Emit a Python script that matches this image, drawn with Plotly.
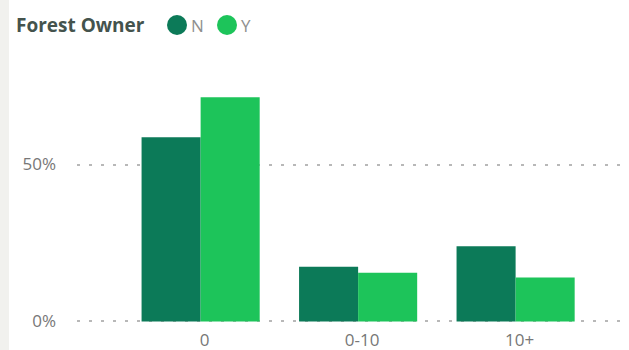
import plotly.graph_objects as go

# Share of respondents by years of forest ownership
categories = ["0", "0-10", "10+"]
owner_n = [58.7, 17.4, 24.0]
owner_y = [71.4, 15.5, 14.0]
series_names = ["N", "Y"]
legend_title = "Forest Owner"
y_tick_vals = [0, 50]
y_tick_text = ["0%", "50%"]

dark_green = "#0c7a58"
light_green = "#1dc45a"

W, H = 629, 350
ML, MR, MT, MB = 77, 0, 86, 26
PW, PH = W - ML - MR, H - MT - MB


def px_x(x):
    """Pixel column -> paper x."""
    return (x - ML) / PW


def px_y(y):
    """Pixel row (from top) -> paper y."""
    return (H - MB - y) / PH


fig = go.Figure()
for name, vals, col in zip(series_names, [owner_n, owner_y], [dark_green, light_green]):
    fig.add_trace(go.Bar(x=categories, y=vals, name=name,
                         marker=dict(color=col, line=dict(width=0)),
                         showlegend=False))

# legend drawn as title + circular keys
annotations = [dict(text="<b>%s</b>" % legend_title, xref="paper", yref="paper",
                    x=px_x(14), y=px_y(25), xanchor="left", yanchor="middle",
                    showarrow=False, font=dict(size=19, color="#44534d"))]
shapes = [dict(type="rect", xref="paper", yref="paper",
               x0=px_x(0), x1=px_x(9), y0=-0.2, y1=1.5,
               fillcolor="#f1f1ee", line=dict(width=0), layer="below")]
key_x = [177, 227]
for name, col, cx in zip(series_names, [dark_green, light_green], key_x):
    shapes.append(dict(type="circle", xref="paper", yref="paper",
                       x0=px_x(cx - 10), x1=px_x(cx + 10),
                       y0=px_y(35), y1=px_y(15),
                       fillcolor=col, line=dict(width=0)))
    annotations.append(dict(text=name, xref="paper", yref="paper",
                            x=px_x(cx + 12), y=px_y(25), xanchor="left", yanchor="middle",
                            showarrow=False, font=dict(size=17, color="#8f8f8f")))

fig.update_layout(
    width=W, height=H,
    margin=dict(l=ML, r=MR, t=MT, b=MB),
    paper_bgcolor="white", plot_bgcolor="white",
    font=dict(family="Open Sans, Noto Sans, sans-serif", size=18, color="#777777"),
    barmode="group", bargap=0.25, bargroupgap=0,
    showlegend=False,
    xaxis=dict(
        type="category", range=[-0.785, 2.72],
        showgrid=False, zeroline=False, showline=False, ticks="",
        tickfont=dict(size=17, color="#777777"),
        ticklabelshift=4, ticklabelstandoff=4,
    ),
    yaxis=dict(
        range=[-0.8, 75.0], tickvals=y_tick_vals, ticktext=y_tick_text,
        showgrid=True, gridcolor="#b8b8b8", griddash="3px,9px", gridwidth=2,
        zeroline=False, showline=False, ticks="",
        ticklabelstandoff=20,
        tickfont=dict(size=17, color="#777777"),
    ),
    annotations=annotations,
    shapes=shapes,
)

fig.write_html("out.html")
